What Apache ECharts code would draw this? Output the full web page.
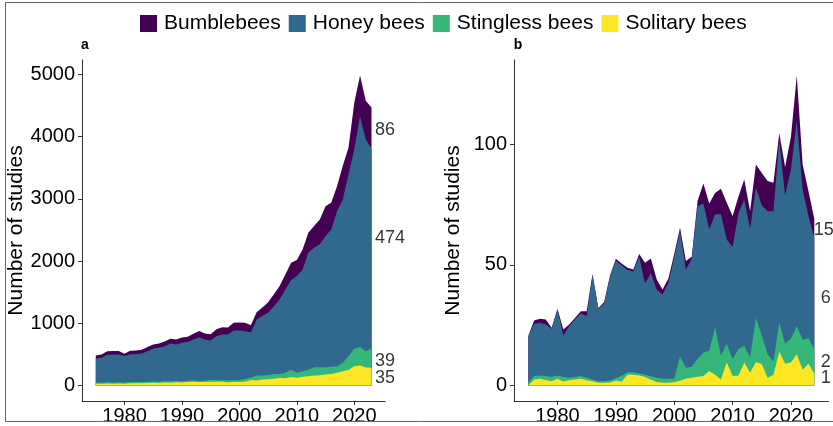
<!DOCTYPE html>
<html><head><meta charset="utf-8">
<script src="https://cdn.jsdelivr.net/npm/echarts@6/dist/echarts.min.js"></script>
<style>html,body{margin:0;padding:0;background:#fff}#c{width:833px;height:426px}</style>
</head><body><div id="c"></div>
<script>
// ---------- data ----------
const yearsA = [1975,1976,1977,1978,1979,1980,1981,1982,1983,1984,1985,1986,1987,1988,1989,1990,1991,1992,1993,1994,1995,1996,1997,1998,1999,2000,2001,2002,2003,2004,2005,2006,2007,2008,2009,2010,2011,2012,2013,2014,2015,2016,2017,2018,2019,2020,2021,2022,2023];
const bumbleA = [48,52,58,60,58,40,55,60,62,65, 65,68,75,75,80,85,85,90,100,95, 100,110,115,110,125,130,135,110,115,140, 170,190,215,240,280,260,320,320,350,400, 480,430,400,540,430,750,660,620,660];
const honeyA  = [391,400,441,443,448,422,449,447,456,490, 530,542,564,608,585,616,620,655,704,665, 636,708,735,735,799,799,768,732,901,955, 998,1090,1203,1338,1438,1553,1635,1878,1918,1972, 2105,2208,2492,2625,2920,3204,3700,3403,3215];
const stingA  = [16,18,20,20,18,20,20,22,20,22, 20,22,20,22,22,20,22,25,15,20, 25,25,20,35,25,30,45,35,80,65, 70,75,60,90,120,80,90,105,135,130, 120,115,105,135,222,280,300,262,305];
const soliA   = [27,28,32,30,32,30,35,35,38,40, 45,42,48,45,52,50,55,60,58,55, 62,60,65,50,60,55,60,90,80,95, 100,110,120,115,135,125,140,150,160,165, 175,185,205,230,250,310,320,290,285];

const yearsB = [1975,1976,1977,1978,1979,1980,1981,1982,1983,1984,1985,1986,1987,1988,1989,1990,1991,1992,1993,1994,1995,1996,1997,1998,1999,2000,2001,2002,2003,2004,2005,2006,2007,2008,2009,2010,2011,2012,2013,2014,2015,2016,2017,2018,2019,2020,2021,2022,2023,2024];
const bumbleB = [0,1.5,1.7,2.1,0.5,0.3,2.5,0.7,0.6,0.9, 2,0.7,0.4,0.6,0.5,0.7,0.8,0.9,0.8,1.2, 8.6,6,4.2,2,1.9,1.6,1.4,3.5,0.8,2.1, 8.3,10.8,8.9,10.6,15.2,12.8,6.9,8.3,7.3,9.7, 13.4,12.5,11.8,2.8,11.8,13.6,18.6,10.4,10.3,7.9];
const honeyB  = [19.4,21.6,21.8,21.4,20,27.3,17.2,21.4,23.9,26, 25.6,43.1,30,32.2,43,48.9,45.8,42.4,41.8,48.4, 37.8,42.9,36.6,35,39.7,50.2,52,40.7,44.8,63.4, 61.8,50.3,46.7,58.7,43.3,46.6,56.3,60.7,53.4,54, 54,59.3,62.3,75.8,61.5,70.1,85.4,62.3,50.7,46.3];
const stingB  = [1.1,1.4,1.4,1.6,1.7,1.4,1.8,1,1,1.1, 1,0.7,0.7,0.7,0.9,0.9,2.4,1,1,0.8, 1,1.4,1.7,1.7,1.7,1.5,10,4.6,4.6,7.4, 9.8,8.4,19.8,9.8,7.8,6.9,11.1,7,6.3,18.2, 12,9.8,5.5,12,8.3,10,11.6,12.5,10.6,10];
const soliB   = [0,2.5,2.8,2.3,1.8,2.8,1.7,2.2,2.5,2.8, 2.2,1.8,1.1,1.1,1.2,2.1,1.6,4.5,4.5,4.2, 3.5,2.4,1.5,1.1,1.1,1.3,2,2.8,3.2,3.6, 3.9,6,4.5,2.5,9.5,4,4,9.5,5.3,9.8, 8.8,3.2,4.5,14,9,9.5,13,6.5,9,5];

const legendNames = ['Bumblebees','Honey bees','Stingless bees','Solitary bees'];
const yTicksA = [0,1000,2000,3000,4000,5000];
const yTicksB = [0,50,100];
const xTicks = [1980,1990,2000,2010,2020];

const endLabelsA = [{t:'86', x:2023.6, y:4108},{t:'474', x:2023.6, y:2367},{t:'39', x:2023.6, y:394},{t:'35', x:2023.6, y:116}];
const endLabelsB = [{t:'15', x:2023.9, y:64.5},{t:'6', x:2025.1, y:36.3},{t:'2', x:2025.1, y:9.9},{t:'1', x:2025.1, y:3.1}];

// ---------- chart ----------
const FONT = '"Liberation Sans", Arial, Helvetica, sans-serif';
const COLORS = {'Bumblebees':'#440154','Honey bees':'#31688E','Stingless bees':'#35B779','Solitary bees':'#FDE725'};
// cumulative stacks (bottom -> top): Solitary, Stingless, Honey, Bumblebees
function cumulative(layers){
  const out = []; let run = layers[0].map(()=>0);
  layers.forEach(l=>{ run = run.map((v,i)=>v+l[i]); out.push(run.slice()); });
  return out;
}
const cumA = cumulative([soliA, stingA, honeyA, bumbleA]);
const cumB = cumulative([soliB, stingB, honeyB, bumbleB]);
const layerNames = ['Solitary bees','Stingless bees','Honey bees','Bumblebees'];
const maxA = Math.max(...cumA[3]);
const maxB = Math.max(...cumB[3]);
const spanA = yearsA[yearsA.length-1]-yearsA[0];
const spanB = yearsB[yearsB.length-1]-yearsB[0];
const pairs = (xs, ys) => xs.map((x,i)=>[x, ys[i]]);

const series = [];
// draw the tallest (top layer) first so lower layers are painted over it
for (let k = 3; k >= 0; k--) {
  const name = layerNames[k];
  [[0,yearsA,cumA[k]],[1,yearsB,cumB[k]]].forEach(([idx,ys,vals])=>{
    series.push({
      name, type:'line', xAxisIndex:idx, yAxisIndex:idx,
      data: pairs(ys, vals), symbol:'none', smooth:false,
      lineStyle:{width:0, opacity:0},
      itemStyle:{color:COLORS[name]},
      areaStyle:{color:COLORS[name], opacity:1, origin:0},
      z: 2 + (3-k), silent:true, animation:false
    });
  });
}
[[0,endLabelsA],[1,endLabelsB]].forEach(([idx,labs])=>{
  series.push({
    type:'scatter', xAxisIndex:idx, yAxisIndex:idx, symbolSize:0.1, z:10,
    itemStyle:{color:'rgba(0,0,0,0)'}, silent:true, animation:false, clip:false,
    data: labs.map(l=>({value:[l.x,l.y], name:l.t})),
    label:{show:true, formatter:'{b}', position:'right', distance:0, fontSize:18, color:'#000', fontFamily:FONT}
  });
});

const axisLineStyle = {color:'#333', width:1};
const plain = v => String(v);
function xAx(idx, min, max){
  return {gridIndex:idx, type:'value', min, max,
    axisLine:{show:true, onZero:false, lineStyle:axisLineStyle},
    axisTick:{show:true, customValues:xTicks, length:4, lineStyle:axisLineStyle},
    axisLabel:{customValues:xTicks, formatter:plain, fontSize:20, color:'#000', margin:5, fontFamily:FONT},
    splitLine:{show:false}};
}
function yAx(idx, min, max, ticks, gap){
  return {gridIndex:idx, type:'value', min, max,
    name:'Number of studies', nameLocation:'middle', nameGap:gap,
    nameTextStyle:{fontSize:21, color:'#000', fontFamily:FONT},
    axisLine:{show:true, onZero:false, lineStyle:axisLineStyle},
    axisTick:{show:true, customValues:ticks, length:4, lineStyle:axisLineStyle},
    axisLabel:{customValues:ticks, formatter:plain, fontSize:20, color:'#000', margin:7, fontFamily:FONT},
    splitLine:{show:false}};
}

const chart = echarts.init(document.getElementById('c'), null, {renderer:'canvas'});
chart.setOption({
  animation:false,
  backgroundColor:'#fff',
  textStyle:{fontFamily:FONT},
  legend:{
    data: legendNames.map(n=>({name:n, itemStyle:{color:COLORS[n], opacity:1, borderWidth:0}})),
    icon:'rect', itemWidth:17, itemHeight:17, itemGap:8,
    left:135, top:8, selectedMode:false,
    textStyle:{fontSize:21, color:'#000', fontFamily:FONT, padding:[0,0,0,2]}
  },
  grid:[
    {left:82, top:60, width:303.3, height:341},
    {left:514, top:60, width:314.6, height:341}
  ],
  xAxis:[
    xAx(0, yearsA[0]-0.05*spanA, yearsA[yearsA.length-1]+0.05*spanA),
    xAx(1, yearsB[0]-0.05*spanB, yearsB[yearsB.length-1]+0.05*spanB)
  ],
  yAxis:[
    yAx(0, -0.05*maxA, 1.05*maxA, yTicksA, 53),
    yAx(1, -0.05*maxB, 1.05*maxB, yTicksB, 50)
  ],
  series,
  graphic:[
    {type:'rect', silent:true, z:100, shape:{x:5.5, y:2.5, width:840, height:419}, style:{fill:'none', stroke:'#666', lineWidth:1}},
    {type:'text', silent:true, x:85, y:45, style:{text:'a', fill:'#000', font:'bold 14px '+FONT, textAlign:'center', textVerticalAlign:'middle'}},
    {type:'text', silent:true, x:518, y:45, style:{text:'b', fill:'#000', font:'bold 14px '+FONT, textAlign:'center', textVerticalAlign:'middle'}}
  ]
});
</script></body></html>
